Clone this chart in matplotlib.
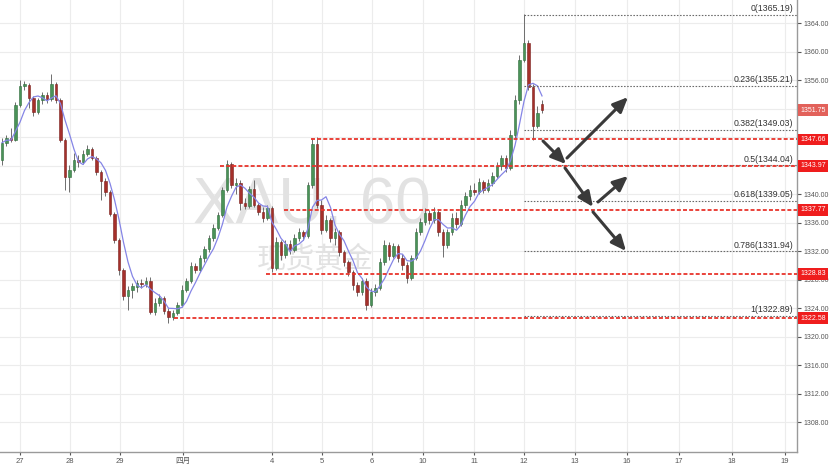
import numpy as np
import pandas as pd
import matplotlib.pyplot as plt
import matplotlib.transforms as mtrans

plt.rcParams['font.family'] = ['Liberation Sans', 'Noto Sans CJK SC']

# XAU 60 minute candles
opens = [1344.8, 1347.2, 1347.9, 1347.6, 1352.5, 1355.2, 1355.3, 1353.5, 1351.5, 1353.2,
         1353.9, 1353.3, 1355.4, 1353.2, 1347.6, 1342.4, 1343.4, 1344.8, 1344.5, 1345.6,
         1346.3, 1345.1, 1343.1, 1341.8, 1340.3, 1337.2, 1333.6, 1329.3, 1325.7, 1326.5,
         1326.9, 1327.5, 1327.4, 1327.8, 1323.4, 1324.7, 1325.4, 1323.6, 1322.7, 1323.3,
         1324.4, 1326.5, 1327.8, 1329.9, 1329.3, 1331.0, 1332.3, 1333.8, 1335.2, 1337.1,
         1340.6, 1344.2, 1341.3, 1341.5, 1338.7, 1338.3, 1340.7, 1338.5, 1337.5, 1336.6,
         1338.0, 1329.6, 1333.3, 1331.4, 1333.0, 1332.1, 1333.8, 1334.6, 1334.1, 1341.3,
         1347.0, 1338.5, 1334.9, 1336.4, 1333.8, 1334.7, 1331.8, 1330.5, 1329.1, 1327.2,
         1326.2, 1327.8, 1324.4, 1326.2, 1326.8, 1330.4, 1332.8, 1331.3, 1332.7, 1331.0,
         1330.0, 1328.2, 1331.0, 1334.7, 1336.1, 1337.3, 1336.4, 1337.5, 1334.7, 1332.8,
         1334.7, 1336.6, 1335.8, 1338.5, 1339.7, 1340.6, 1340.3, 1341.7, 1340.6, 1341.5,
         1342.5, 1343.9, 1345.1, 1343.6, 1348.3, 1353.2, 1358.8, 1361.2, 1355.0, 1349.5,
         1352.6]
highs = [1347.9, 1348.3, 1349.3, 1352.9, 1356.0, 1355.9, 1355.6, 1353.8, 1353.5, 1354.3,
         1354.3, 1356.8, 1355.7, 1353.5, 1347.9, 1344.1, 1345.8, 1345.5, 1346.2, 1346.9,
         1346.6, 1345.3, 1343.4, 1342.2, 1340.6, 1337.5, 1333.8, 1329.6, 1327.1, 1327.5,
         1327.9, 1328.1, 1328.4, 1328.4, 1325.4, 1326.0, 1325.7, 1324.0, 1323.7, 1324.8,
         1327.2, 1328.2, 1330.5, 1330.3, 1331.4, 1332.7, 1334.2, 1335.8, 1337.5, 1341.0,
         1344.8, 1344.5, 1342.2, 1342.0, 1339.4, 1341.1, 1342.0, 1338.7, 1338.2, 1338.5,
         1338.3, 1333.9, 1333.5, 1333.5, 1333.5, 1334.4, 1335.2, 1335.0, 1341.7, 1347.9,
         1348.0, 1339.2, 1337.1, 1336.6, 1335.2, 1334.9, 1332.1, 1330.7, 1329.3, 1327.6,
         1328.2, 1328.2, 1326.8, 1327.4, 1331.0, 1333.5, 1333.3, 1333.1, 1333.0, 1331.6,
         1330.4, 1331.4, 1335.2, 1336.6, 1338.0, 1337.8, 1338.2, 1337.9, 1335.1, 1335.1,
         1337.3, 1337.5, 1339.2, 1340.3, 1341.3, 1341.5, 1342.2, 1342.0, 1342.1, 1343.1,
         1344.5, 1345.5, 1345.5, 1349.0, 1353.9, 1359.5, 1365.2, 1361.6, 1355.4, 1352.3,
         1353.2]
lows = [1344.1, 1346.7, 1347.3, 1347.4, 1352.2, 1354.6, 1352.1, 1350.9, 1351.2, 1352.6,
        1352.8, 1353.0, 1352.8, 1347.3, 1340.6, 1340.3, 1343.1, 1343.8, 1344.2, 1345.3,
        1344.8, 1342.7, 1339.2, 1339.7, 1336.9, 1333.1, 1328.6, 1325.1, 1323.7, 1325.4,
        1326.2, 1326.8, 1326.9, 1323.2, 1323.0, 1324.3, 1323.2, 1321.9, 1322.3, 1323.0,
        1324.1, 1326.2, 1327.5, 1328.9, 1329.1, 1330.5, 1331.9, 1333.4, 1334.9, 1336.8,
        1340.3, 1340.8, 1340.0, 1337.8, 1337.9, 1338.0, 1338.2, 1337.1, 1336.1, 1336.4,
        1329.1, 1329.3, 1330.7, 1331.0, 1331.6, 1331.9, 1333.4, 1333.5, 1333.8, 1340.8,
        1338.0, 1334.4, 1334.7, 1333.3, 1332.8, 1331.3, 1329.9, 1328.5, 1326.5, 1325.7,
        1325.8, 1323.7, 1324.1, 1325.7, 1326.5, 1330.0, 1330.7, 1331.0, 1330.5, 1329.3,
        1327.5, 1327.9, 1330.7, 1334.3, 1335.7, 1335.8, 1335.9, 1334.1, 1331.2, 1332.4,
        1334.3, 1335.2, 1335.5, 1338.0, 1339.2, 1339.9, 1340.0, 1340.1, 1340.3, 1341.1,
        1342.2, 1343.4, 1343.1, 1343.4, 1347.9, 1352.6, 1358.5, 1354.6, 1347.6, 1349.2,
        1351.4]
closes = [1347.2, 1347.9, 1347.6, 1352.5, 1355.2, 1355.4, 1353.5, 1351.5, 1353.2, 1353.9,
          1353.3, 1355.4, 1353.2, 1347.6, 1342.4, 1343.4, 1344.8, 1344.5, 1345.6, 1346.3,
          1345.1, 1343.1, 1341.8, 1340.3, 1337.2, 1333.6, 1329.3, 1325.7, 1326.5, 1327.1,
          1327.5, 1327.4, 1327.8, 1323.4, 1324.7, 1325.4, 1323.6, 1322.7, 1323.3, 1324.4,
          1326.5, 1327.8, 1329.9, 1329.3, 1331.0, 1332.3, 1333.8, 1335.2, 1337.1, 1340.6,
          1344.2, 1341.3, 1341.5, 1338.7, 1338.3, 1340.7, 1338.5, 1337.5, 1336.6, 1338.0,
          1329.6, 1333.3, 1331.4, 1333.0, 1332.1, 1333.8, 1334.6, 1334.1, 1341.3, 1347.0,
          1338.5, 1334.9, 1336.4, 1333.8, 1334.7, 1331.8, 1330.5, 1329.1, 1327.2, 1326.2,
          1327.8, 1324.4, 1326.2, 1326.8, 1330.4, 1332.8, 1331.3, 1332.7, 1331.0, 1330.0,
          1328.2, 1331.0, 1334.7, 1336.1, 1337.3, 1336.4, 1337.5, 1334.7, 1332.8, 1334.7,
          1336.6, 1335.8, 1338.5, 1339.7, 1340.6, 1340.3, 1341.7, 1340.6, 1341.5, 1342.5,
          1343.9, 1345.1, 1343.6, 1348.3, 1353.2, 1358.8, 1361.2, 1355.0, 1349.5, 1351.4,
          1351.75]

day_labels = ['27', '28', '29', '四月', '4', '5', '6', '10', '11', '12', '13', '16', '17', '18', '19']

# support / resistance lines
sr_levels = [1347.66, 1343.97, 1337.77, 1328.83, 1322.58]
last_price = 1351.75

# fibonacci retracement
fib_ratios = ['0', '0.236', '0.382', '0.5', '0.618', '0.786', '1']
fib_values = [1365.19, 1355.21, 1349.03, 1344.04, 1339.05, 1331.94, 1322.89]

# hand drawn arrows (x0, price0, x1, price1)
arrows = [(567, 1345.05, 628, 1353.6),
          (543, 1347.44, 566, 1344.2),
          (565, 1343.65, 593, 1338.18),
          (598, 1338.88, 628, 1342.53),
          (593, 1337.48, 626, 1332.0)]

# layout (chart pixel units)
day_pos = [20, 70, 120, 183, 272, 322, 372, 423, 474, 524, 575, 627, 679, 732, 785]
sr_start = [311, 220, 284, 266, 174]
fib_start = 524

o = np.array(opens); h = np.array(highs); l = np.array(lows); c = np.array(closes)
x = 2 + 4.5 * np.arange(len(c))
ma = pd.Series(c).rolling(5, min_periods=1).mean()

fig = plt.figure(figsize=(8.31, 4.66), dpi=100)
ax = fig.add_axes([0, 14/466, 797/831, 452/466])
ax.set_xlim(0, 797)
ax.set_ylim(1303.79, 1367.23)

# grid
ax.set_axisbelow(True)
ax.grid(True, color='#ececec', lw=0.8)

# watermark
ax.text(193, 1335.93, 'XAU, 60', fontsize=46, color='#e2e2e2', ha='left', va='baseline', zorder=1)
ax.text(257, 1329.75, '现货黄金', fontsize=21, color='#e2e2e2', ha='left', va='baseline',
        family=['Noto Sans CJK SC'], zorder=1)

# candles
up = c >= o
body = np.maximum(np.abs(c - o), 0.12)
ax.vlines(x, l, h, color='#6e6e6e', lw=0.7, zorder=3)
ax.bar(x[up], body[up], bottom=np.minimum(o, c)[up], width=2.6, color='#4a9358',
       edgecolor='#2f6b3b', lw=0.4, zorder=4)
ax.bar(x[~up], body[~up], bottom=np.minimum(o, c)[~up], width=2.6, color='#a5302b',
       edgecolor='#7a1f1c', lw=0.4, zorder=4)

# moving average
ax.plot(x, ma, color='#8585e6', lw=0.9, zorder=5)

# support / resistance
for v, xs in zip(sr_levels, sr_start):
    ax.hlines(v, xs, 797, colors='#e8342b', linestyles=(0, (2.2, 1.2)), lw=1.3, zorder=6)

# fib levels
for r, v in zip(fib_ratios, fib_values):
    ax.hlines(v, fib_start, 797, colors='#6a6a6a', linestyles=(0, (1.4, 1.4)), lw=0.8, zorder=5)
    ax.text(793, v + 0.2, f'{r}({v:.2f})', ha='right', va='bottom', fontsize=6.3,
            color='#333333', zorder=7)

# arrows
for x0, y0, x1, y1 in arrows:
    ax.annotate('', xy=(x1, y1), xytext=(x0, y0), zorder=8,
                arrowprops=dict(arrowstyle='-|>,head_length=0.9,head_width=0.4',
                                color='#3a3a3a', lw=2.2, shrinkA=0, shrinkB=0))

# axes
for s in ['left', 'top']:
    ax.spines[s].set_visible(False)
for s in ['right', 'bottom']:
    ax.spines[s].set_color('#9a9a9a')
    ax.spines[s].set_linewidth(1)
ax.yaxis.tick_right()
yt = np.arange(1308, 1365, 4)
ax.set_yticks(yt)
# labels hidden behind the price boxes are left blank
hidden = [1352, 1348, 1344]
ax.set_yticklabels(['' if v in hidden else f'{v:.2f}' for v in yt])
ax.tick_params(axis='y', labelsize=5, colors='#555555', length=3, pad=2)
ax.set_xticks(day_pos)
ax.set_xticklabels(day_labels)
ax.tick_params(axis='x', labelsize=5.5, colors='#555555', length=2, pad=2)

# price boxes on the right axis
tr = mtrans.blended_transform_factory(ax.transAxes, ax.transData)
for v in sr_levels:
    ax.text(1.004, v, f'{v:.2f}', transform=tr, fontsize=5, color='white', va='center', ha='left',
            bbox=dict(boxstyle='square,pad=0.35', fc='#ef1d1d', ec='none'), clip_on=False, zorder=10)
ax.text(1.004, last_price, f'{last_price:.2f}', transform=tr, fontsize=5, color='white',
        va='center', ha='left', bbox=dict(boxstyle='square,pad=0.35', fc='#e2615a', ec='none'),
        clip_on=False, zorder=10)

plt.savefig('out.png', dpi=100)
